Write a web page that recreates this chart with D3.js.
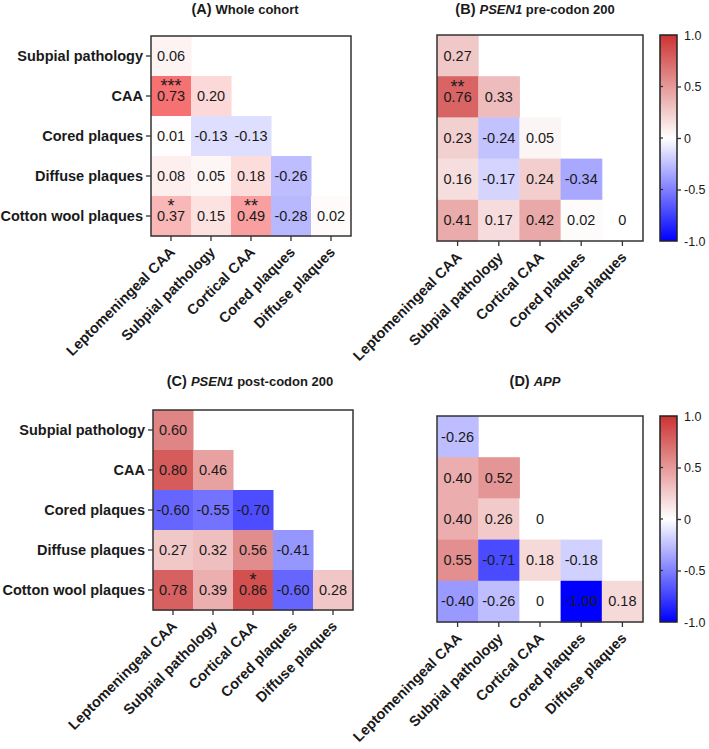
<!DOCTYPE html>
<html><head><meta charset="utf-8">
<script src="https://cdn.jsdelivr.net/npm/d3@7"></script>
<style>
html,body{margin:0;padding:0;background:#fff;}
svg{display:block;font-family:Arial,"Liberation Sans",Helvetica,sans-serif;}
</style></head>
<body>
<svg id="chart" width="709" height="749"></svg>
<script>
// ---- data ----
const rowLabels = ["Subpial pathology","CAA","Cored plaques","Diffuse plaques","Cotton wool plaques"];
const colLabels = ["Leptomeningeal CAA","Subpial pathology","Cortical CAA","Cored plaques","Diffuse plaques"];

const wholeCohort = [[0.06],[0.73,0.20],[0.01,-0.13,-0.13],[0.08,0.05,0.18,-0.26],[0.37,0.15,0.49,-0.28,0.02]];
const wholeCohortStars = [[""],["***",""],["","",""],["","","",""],["*","","**","",""]];

const psen1Pre = [[0.27],[0.76,0.33],[0.23,-0.24,0.05],[0.16,-0.17,0.24,-0.34],[0.41,0.17,0.42,0.02,0]];
const psen1PreStars = [[""],["**",""],["","",""],["","","",""],["","","","",""]];

const psen1Post = [[0.60],[0.80,0.46],[-0.60,-0.55,-0.70],[0.27,0.32,0.56,-0.41],[0.78,0.39,0.86,-0.60,0.28]];
const psen1PostStars = [[""],["",""],["","",""],["","","",""],["","","*","",""]];

const appVals = [[-0.26],[0.40,0.52],[0.40,0.26,0],[0.55,-0.71,0.18,-0.18],[-0.40,-0.26,0,-1.00,0.18]];
const appStars = [[""],["",""],["","",""],["","","",""],["","","","",""]];

const colorTicks = [1.0,0.5,0,-0.5,-1.0];
const colorTickLabels = ["1.0","0.5","0","-0.5","-1.0"];

// ---- drawing ----
const svg = d3.select("#chart");
const FONT_LBL = 14.5;

const colorMain = d3.scaleLinear().domain([-1,0,1]).range(["#0000ff","#ffffff","#cc3333"]).interpolate(d3.interpolateRgb);
const colorA = d3.scaleLinear().domain([-1,0,1]).range(["#0000ff","#ffffff","#f23c3c"]).interpolate(d3.interpolateRgb);

function fmt(v){ return v === 0 ? "0" : v.toFixed(2); }

function panel(opt){
  const g = svg.append("g");
  const x = d3.scaleBand().domain(colLabels).range([opt.x0, opt.x0 + opt.w]);
  const y = d3.scaleBand().domain(rowLabels).range([opt.y0, opt.y0 + opt.h]);
  const cells = [];
  opt.vals.forEach((row,i)=>row.forEach((v,j)=>cells.push({r:rowLabels[i], c:colLabels[j], v, s:opt.stars[i][j]})));
  const cg = g.selectAll("g.cell").data(cells).join("g");
  cg.append("rect")
    .attr("x", d=>x(d.c)).attr("y", d=>y(d.r))
    .attr("width", x.bandwidth()+0.5).attr("height", y.bandwidth()+0.5)
    .attr("fill", d=>opt.color(d.v));
  cg.append("text")
    .attr("x", d=>x(d.c)+x.bandwidth()/2).attr("y", d=>y(d.r)+y.bandwidth()/2+5)
    .attr("text-anchor","middle")
    .attr("font-size",14.5).attr("fill","#1a1a1a")
    .text(d=>fmt(d.v));
  cg.filter(d=>d.s).append("text")
    .attr("x", d=>x(d.c)+x.bandwidth()/2).attr("y", d=>y(d.r)+y.bandwidth()/2-4)
    .attr("text-anchor","middle")
    .attr("font-size",18).attr("fill","#1a1a1a")
    .text(d=>d.s);
  // frame
  g.append("rect").attr("x",opt.x0).attr("y",opt.y0).attr("width",opt.w).attr("height",opt.h)
    .attr("fill","none").attr("stroke","#333").attr("stroke-width",1.5);
  // y axis
  const ya = d3.axisLeft(y).tickSize(5).tickPadding(3);
  const yg = g.append("g").attr("transform",`translate(${opt.x0},0)`).call(ya);
  yg.select(".domain").remove();
  yg.selectAll(".tick line").attr("stroke","#333").attr("stroke-width",1.3);
  if (opt.showY) {
    yg.selectAll(".tick text").attr("font-size",FONT_LBL).attr("font-weight","bold").attr("fill","#1a1a1a")
      .attr("font-family",'Arial,"Liberation Sans",sans-serif');
  } else {
    yg.selectAll(".tick text").remove();
    yg.selectAll(".tick line").remove();
  }
  // x axis
  const xa = d3.axisBottom(x).tickSize(5);
  const xg = g.append("g").attr("transform",`translate(0,${opt.y0+opt.h})`).call(xa);
  xg.select(".domain").remove();
  xg.selectAll(".tick line").attr("stroke","#333").attr("stroke-width",1.3);
  xg.selectAll(".tick text")
    .attr("font-size",FONT_LBL).attr("font-weight","bold").attr("fill","#1a1a1a")
    .attr("font-family",'Arial,"Liberation Sans",sans-serif')
    .attr("text-anchor","end").attr("dy",null).attr("y",0)
    .attr("transform","translate(5,17) rotate(-45)");
  // title
  const t = g.append("text").attr("x",opt.tx).attr("y",opt.ty).attr("text-anchor","middle")
    .attr("font-size",13).attr("font-weight","bold").attr("fill","#1a1a1a");
  t.append("tspan").attr("font-size",14.5).text(opt.tag + "  ");
  if (opt.italic) t.append("tspan").attr("font-style","italic").text(opt.italic);
  if (opt.rest) t.append("tspan").text(opt.rest);
}

function colorbar(x0,y0,h){
  const w = 17;
  const id = "grad"+Math.round(y0);
  const defs = svg.append("defs");
  const gr = defs.append("linearGradient").attr("id",id).attr("x1",0).attr("x2",0).attr("y1",1).attr("y2",0);
  d3.range(0,1.0001,0.05).forEach(t=>{
    gr.append("stop").attr("offset",t).attr("stop-color",colorMain(-1+2*t));
  });
  const s = d3.scaleLinear().domain([-1,1]).range([y0+h,y0]);
  svg.append("rect").attr("x",x0).attr("y",y0).attr("width",w).attr("height",h)
    .attr("fill",`url(#${id})`).attr("stroke","#222").attr("stroke-width",1.5);
  const ax = d3.axisRight(s).tickValues(colorTicks).tickSize(4).tickPadding(3)
    .tickFormat((d,i)=>colorTickLabels[i]);
  const ag = svg.append("g").attr("transform",`translate(${x0+w},0)`).call(ax);
  ag.select(".domain").remove();
  ag.selectAll(".tick line").attr("stroke","#333").attr("stroke-width",1.3);
  ag.selectAll(".tick text").attr("font-size",12.5).attr("fill","#1a1a1a")
    .attr("font-family",'Arial,"Liberation Sans",sans-serif');
  ag.selectAll(".tick").filter(d=>Math.abs(d)===1).select("line").remove();
  // inner tick marks on left edge
  svg.append("g").selectAll("line").data(colorTicks.filter(d=>Math.abs(d)<1)).join("line")
    .attr("x1",x0).attr("x2",x0+3).attr("y1",d=>s(d)).attr("y2",d=>s(d))
    .attr("stroke","#333").attr("stroke-width",1.3);
}

panel({x0:151,y0:36,w:200,h:200,vals:wholeCohort,stars:wholeCohortStars,color:colorA,showY:true,
  tx:245,ty:14,tag:"(A)",rest:"Whole cohort"});
panel({x0:437,y0:35,w:206,h:206,vals:psen1Pre,stars:psen1PreStars,color:colorMain,showY:false,
  tx:535,ty:14,tag:"(B)",italic:"PSEN1",rest:" pre-codon 200"});
panel({x0:153,y0:410,w:200,h:200,vals:psen1Post,stars:psen1PostStars,color:colorMain,showY:true,
  tx:250,ty:386,tag:"(C)",italic:"PSEN1",rest:" post-codon 200"});
panel({x0:437,y0:416,w:206,h:206,vals:appVals,stars:appStars,color:colorMain,showY:false,
  tx:535,ty:386,tag:"(D)",italic:"APP",rest:""});
colorbar(660,35,206);
colorbar(660,416,206);
</script>
</body></html>
